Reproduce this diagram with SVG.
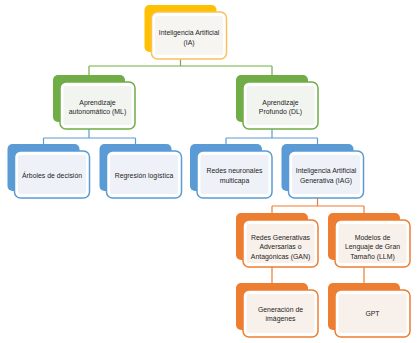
<svg xmlns="http://www.w3.org/2000/svg" width="418" height="343" viewBox="0 0 418 343">
<style>
.bk{stroke:none}
.fr{fill:#ffffff;stroke-width:1.5}
.in{stroke:none}
.t{font-family:"Liberation Sans",Arial,sans-serif;font-size:6.9px;fill:#1e1e1e;text-anchor:middle}
.y .bk{fill:#FFC000}.y .fr{stroke:#F8C15C}.y .in{fill:#f7f5f1}
.g .bk{fill:#70AD47}.g .fr{stroke:#70AD47}.g .in{fill:#f2f4f0}
.b .bk{fill:#5B9BD5}.b .fr{stroke:#5B9BD5}.b .in{fill:#eef2f8}
.o .bk{fill:#ED7D31}.o .fr{stroke:#ED7D31}.o .in{fill:#f8f0eb}
.c{fill:none;stroke-width:1.2}
</style>
<rect width="418" height="343" fill="#ffffff"/>
<g id="connectors">
<path class="c" stroke="#70AD47" d="M180.5 59V66M89 66H272M89 66V75M272 66V75"/>
<path class="c" stroke="#5B9BD5" d="M89 129V138M43.5 138H135.5M43.5 138V144M135.5 138V144"/>
<path class="c" stroke="#5B9BD5" d="M272 129V138M226 138H317.5M226 138V144M317.5 138V144"/>
<path class="c" stroke="#ED7D31" d="M317.5 198V206M272 206H364M272 206V213M364 206V213"/>
<path class="c" stroke="#ED7D31" d="M272 267V283M364 267V283"/>
</g>
<g id="ia" class="y">
<rect class="bk" x="144.5" y="5" width="72" height="47" rx="5"/>
<rect class="fr" x="151.5" y="12" width="75" height="47" rx="6"/>
<rect class="in" x="155" y="16" width="68" height="39" rx="2"/>
<text class="t" x="189" y="35">Inteligencia Artificial</text>
<text class="t" x="189" y="44.5">(IA)</text>
</g>
<g id="ml" class="g">
<rect class="bk" x="53" y="75" width="72" height="47" rx="5"/>
<rect class="fr" x="60" y="82" width="75" height="47" rx="6"/>
<rect class="in" x="63.5" y="86" width="68" height="39" rx="2"/>
<text class="t" x="97.5" y="104.5">Aprendizaje</text>
<text class="t" x="97.5" y="114">autonomático (ML)</text>
</g>
<g id="dl" class="g">
<rect class="bk" x="236" y="75" width="72" height="47" rx="5"/>
<rect class="fr" x="243" y="82" width="75" height="47" rx="6"/>
<rect class="in" x="246.5" y="86" width="68" height="39" rx="2"/>
<text class="t" x="280.5" y="104.5">Aprendizaje</text>
<text class="t" x="280.5" y="114">Profundo (DL)</text>
</g>
<g id="arboles" class="b">
<rect class="bk" x="7.5" y="144" width="72" height="47" rx="5"/>
<rect class="fr" x="14.5" y="151" width="75" height="47" rx="6"/>
<rect class="in" x="18" y="155" width="68" height="39" rx="2"/>
<text class="t" x="52" y="177.5">Árboles de decisión</text>
</g>
<g id="regresion" class="b">
<rect class="bk" x="99.5" y="144" width="72" height="47" rx="5"/>
<rect class="fr" x="106.5" y="151" width="75" height="47" rx="6"/>
<rect class="in" x="110" y="155" width="68" height="39" rx="2"/>
<text class="t" x="144" y="177.5">Regresión logística</text>
</g>
<g id="redes" class="b">
<rect class="bk" x="190" y="144" width="72" height="47" rx="5"/>
<rect class="fr" x="197" y="151" width="75" height="47" rx="6"/>
<rect class="in" x="200.5" y="155" width="68" height="39" rx="2"/>
<text class="t" x="234.5" y="173">Redes neuronales</text>
<text class="t" x="234.5" y="182.5">multicapa</text>
</g>
<g id="iag" class="b">
<rect class="bk" x="281.5" y="144" width="72" height="47" rx="5"/>
<rect class="fr" x="288.5" y="151" width="75" height="47" rx="6"/>
<rect class="in" x="292" y="155" width="68" height="39" rx="2"/>
<text class="t" x="326" y="173">Inteligencia Artificial</text>
<text class="t" x="326" y="182.5">Generativa (IAG)</text>
</g>
<g id="gan" class="o">
<rect class="bk" x="236" y="213" width="72" height="47" rx="5"/>
<rect class="fr" x="243" y="220" width="75" height="47" rx="6"/>
<rect class="in" x="246.5" y="224" width="68" height="39" rx="2"/>
<text class="t" x="280.5" y="239.5">Redes Generativas</text>
<text class="t" x="280.5" y="249">Adversarias o</text>
<text class="t" x="280.5" y="258.5">Antagónicas (GAN)</text>
</g>
<g id="llm" class="o">
<rect class="bk" x="328" y="213" width="72" height="47" rx="5"/>
<rect class="fr" x="335" y="220" width="75" height="47" rx="6"/>
<rect class="in" x="338.5" y="224" width="68" height="39" rx="2"/>
<text class="t" x="372.5" y="239.5">Modelos de</text>
<text class="t" x="372.5" y="249">Lenguaje de Gran</text>
<text class="t" x="372.5" y="258.5">Tamaño (LLM)</text>
</g>
<g id="generacion" class="o">
<rect class="bk" x="236" y="283" width="72" height="47" rx="5"/>
<rect class="fr" x="243" y="290" width="75" height="47" rx="6"/>
<rect class="in" x="246.5" y="294" width="68" height="39" rx="2"/>
<text class="t" x="280.5" y="311.5">Generación de</text>
<text class="t" x="280.5" y="321">imágenes</text>
</g>
<g id="gpt" class="o">
<rect class="bk" x="328" y="283" width="72" height="47" rx="5"/>
<rect class="fr" x="335" y="290" width="75" height="47" rx="6"/>
<rect class="in" x="338.5" y="294" width="68" height="39" rx="2"/>
<text class="t" x="372.5" y="316">GPT</text>
</g>
</svg>
